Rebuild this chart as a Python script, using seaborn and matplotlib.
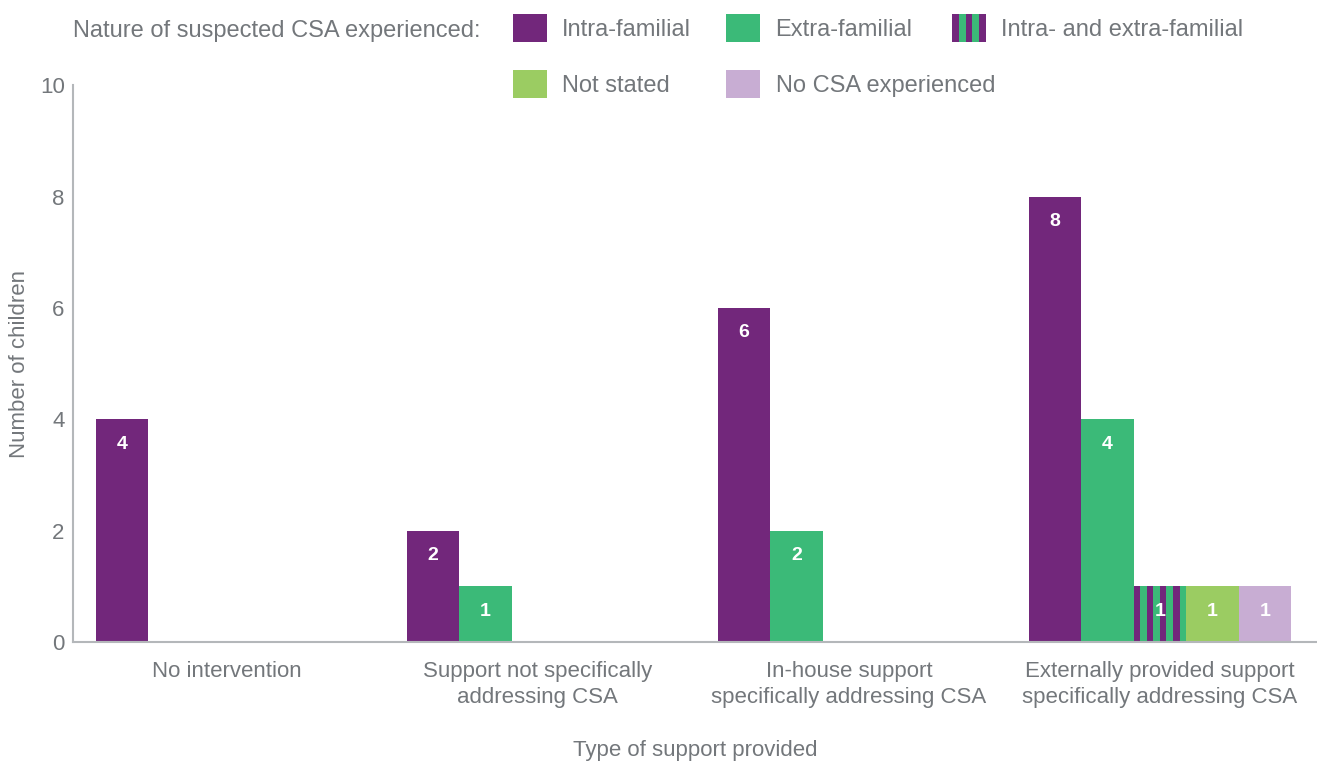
import numpy as np
import pandas as pd
import seaborn as sns
import matplotlib.pyplot as plt
from matplotlib.patches import Patch, Rectangle

# chart data
support_types = ["No intervention",
                 "Support not specifically\naddressing CSA",
                 "In-house support\nspecifically addressing CSA",
                 "Externally provided support\nspecifically addressing CSA"]
csa_types = ["Intra-familial", "Extra-familial", "Intra- and extra-familial",
             "Not stated", "No CSA experienced"]
intra = [4, 2, 6, 8]
extra = [0, 1, 2, 4]
both = [0, 0, 0, 1]
not_stated = [0, 0, 0, 1]
no_csa = [0, 0, 0, 1]
y_ticks = [0, 2, 4, 6, 8, 10]

purple = "#72277B"
green = "#3BBA78"
colors = [purple, green, green, "#9BCC62", "#C8ADD3"]
grey_txt = "#73777B"
grey_axis = "#B4B7BA"
FS = 16

rows = []
for name, vals in zip(csa_types, [intra, extra, both, not_stated, no_csa]):
    for st, v in zip(support_types, vals):
        rows.append({"support": st, "csa": name, "n": v})
df = pd.DataFrame(rows)

sns.set_theme(style="white")
plt.rcParams['font.family'] = ['Liberation Sans', 'DejaVu Sans']


def make_stripes(x, y, w, h, n):
    # purple stripes to lay over a green base
    sw = w / n
    return [Rectangle((x + k * sw, y), sw, h, facecolor=purple, linewidth=0)
            for k in range(0, n, 2)]


class StripedHandler:
    def legend_artist(self, legend, orig_handle, fontsize, handlebox):
        x0, y0 = -handlebox.xdescent, -handlebox.ydescent
        w, h = handlebox.width, handlebox.height
        base = Rectangle((x0, y0), w, h, facecolor=green, linewidth=0)
        handlebox.add_artist(base)
        for r in make_stripes(x0, y0, w, h, 5):
            handlebox.add_artist(r)
        return base


fig = plt.figure(figsize=(13.17, 7.62), dpi=100)
ax = fig.add_axes([0.0554, 0.1575, 0.9446, 0.7305])

sns.barplot(data=df, x="support", y="n", hue="csa", order=support_types,
            hue_order=csa_types, palette=colors, width=0.843, gap=0,
            saturation=1, legend=False, ax=ax, linewidth=0, errorbar=None)

for cont, name in zip(ax.containers, csa_types):
    if name == "Intra- and extra-familial":
        for p in cont.patches:
            if p.get_height() > 0:
                for r in make_stripes(p.get_x(), p.get_y(), p.get_width(),
                                      p.get_height(), 8):
                    r.set_zorder(p.get_zorder() + 0.1)
                    ax.add_patch(r)
    labels = [f"{int(v)}" if v > 0 else "" for v in cont.datavalues]
    ax.bar_label(cont, labels=labels, label_type="edge", padding=-24,
                 color="white", fontsize=14, fontweight="bold", zorder=5)

ax.set_ylim(0, 10)
ax.set_xlim(-0.495, 3.505)
ax.set_yticks(y_ticks)
ax.tick_params(axis="y", length=0, pad=6, labelsize=FS, labelcolor=grey_txt)
ax.tick_params(axis="x", length=0, pad=14, labelsize=FS, labelcolor=grey_txt)
for lab in ax.get_xticklabels():
    lab.set_linespacing(1.3)
ax.set_ylabel("Number of children", fontsize=FS, color=grey_txt, labelpad=7)
ax.set_xlabel("Type of support provided", fontsize=FS, color=grey_txt, labelpad=23)
for s in ["top", "right"]:
    ax.spines[s].set_visible(False)
for s in ["left", "bottom"]:
    ax.spines[s].set_color(grey_axis)
    ax.spines[s].set_linewidth(1.5)

LFS = 17
handles = [Patch(facecolor=c, linewidth=0) for c in colors]
leg_kw = dict(frameon=False, fontsize=LFS, labelcolor=grey_txt,
              handlelength=1.44, handleheight=1.44, handletextpad=0.64,
              columnspacing=1.5, labelspacing=1.18, borderpad=0,
              borderaxespad=0, loc="upper left")
order = [0, 3, 1, 4]
fig.legend([handles[i] for i in order], [csa_types[i] for i in order],
           ncol=2, bbox_to_anchor=(0.3895, 0.9816), **leg_kw)
fig.legend([handles[2]], [csa_types[2]], ncol=1,
           bbox_to_anchor=(0.7228, 0.9816),
           handler_map={handles[2]: StripedHandler()}, **leg_kw)
fig.text(0.0554, 0.959, "Nature of suspected CSA experienced:", fontsize=LFS,
         color=grey_txt, va="center", ha="left")

fig.savefig("out.png", dpi=100)
